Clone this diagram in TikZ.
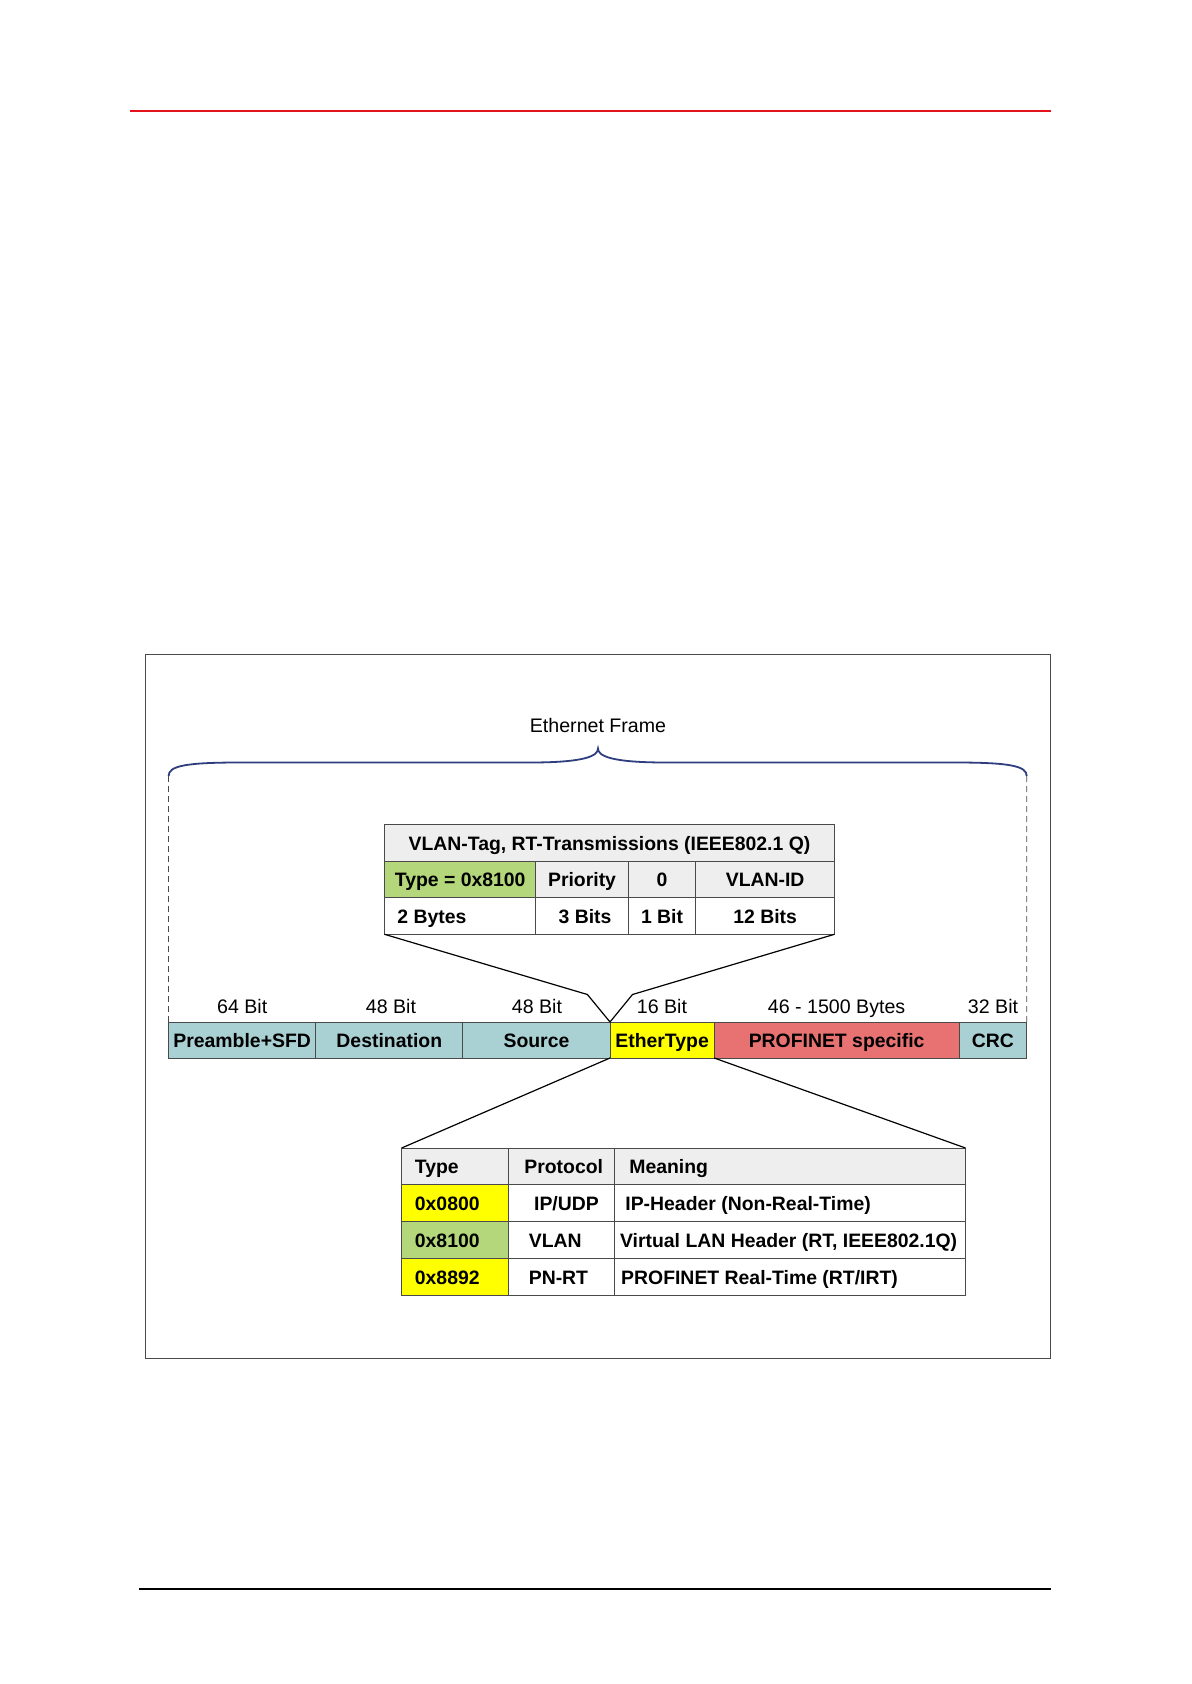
\documentclass[tikz,border=0pt]{standalone}
\usepackage{fontspec}
\setmainfont{Liberation Sans}
\definecolor{cTeal}{HTML}{A9D0D3}
\definecolor{cRed}{HTML}{E87272}
\definecolor{cYel}{HTML}{FFFF00}
\definecolor{cGreen}{HTML}{B3D77A}
\definecolor{cGrey}{HTML}{EEEEEE}
\definecolor{cLine}{HTML}{4A4A4A}
\definecolor{cBrace}{HTML}{2E3D7E}
\definecolor{cRule}{HTML}{E3131B}
\newcommand\mycell[7]{\node[cellst,#6,minimum width={(#4-#2)*0.5pt},minimum height={(#5-#3)*0.5pt}] (#1) at ({(#2+#4)/2},{(#3+#5)/2}) {#7};}
\begin{document}
\begin{tikzpicture}[x=0.5pt,y=-0.5pt,
  cellst/.style={draw=cLine,line width=0.5pt,inner sep=0pt,outer sep=0pt,
    font=\fontsize{9.7}{11}\selectfont\bfseries,text height=7pt,text depth=0pt},
  txt/.style={inner sep=0pt,font=\fontsize{9.7}{11}\selectfont\bfseries,text height=7pt,text depth=0pt},
  lbl/.style={inner sep=0pt,font=\fontsize{9.8}{11}\selectfont,text height=7pt,text depth=0pt},
  conn/.style={draw=black,line width=0.6pt},
  dashline/.style={draw=cLine,line width=0.4pt,dash pattern=on 3pt off 2pt}]
\useasboundingbox (0,0) rectangle (1191,1684);
% page rules
\coordinate (rA) at (130,110.6); \coordinate (rB) at (1051,110.6);
\draw[cRule,line width=1pt] (rA) -- (rB);
\coordinate (bA) at (138.5,1589); \coordinate (bB) at (1051,1589);
\draw[black,line width=0.7pt] (bA) -- (bB);
% outer frame
\node[draw=cLine,line width=0.5pt,inner sep=0pt,minimum width={(1050-145)*0.5pt},minimum height={(1358.5-654)*0.5pt}] (outer) at ({(145+1050)/2},{(654+1358.5)/2}) {};
% title and brace
\node[lbl] (title) at (598,725) {Ethernet Frame};
\coordinate (brL) at (168.6,776);
\coordinate (brR) at (1026.7,776);
\coordinate (brT) at (598,748.5);
\draw[cBrace,line width=0.9pt] (brL) .. controls (168.6,766) and (185,762.5) .. (240,762.5)
  -- (530,762.5) .. controls (585,762.5) and (598,756) .. (brT)
  .. controls (598,756) and (611,762.5) .. (666,762.5)
  -- (955,762.5) .. controls (1010,762.5) and (1026.7,766) .. (brR);
% frame row
\mycell{pre}{168.6}{1022}{315.7}{1058}{fill=cTeal}{Preamble+SFD}
\mycell{dst}{315.7}{1022}{462.9}{1058}{fill=cTeal}{Destination}
\mycell{src}{462.9}{1022}{610}{1058}{fill=cTeal}{Source}
\mycell{eth}{610}{1022}{714.2}{1058}{fill=cYel}{EtherType}
\mycell{pns}{714.2}{1022}{959}{1058}{fill=cRed}{PROFINET specific}
\mycell{crc}{959}{1022}{1026.7}{1058}{fill=cTeal}{CRC}
% dashed verticals
\draw[dashline] (brL) -- (pre.north west);
\draw[dashline] (brR) -- (crc.north east);
% bit labels
\node[lbl] (l1) at (242.2,1006) {64 Bit};
\node[lbl] (l2) at (391,1006) {48 Bit};
\node[lbl] (l3) at (537,1006) {48 Bit};
\node[lbl] (l4) at (662,1006) {16 Bit};
\node[lbl] (l5) at (836.6,1006) {46 - 1500 Bytes};
\node[lbl] (l6) at (993,1006) {32 Bit};
% VLAN table
\mycell{vh}{384.5}{824.8}{834.4}{861.3}{fill=cGrey}{VLAN-Tag, RT-Transmissions (IEEE802.1 Q)}
\mycell{v1}{384.5}{861.3}{535.9}{897.8}{fill=cGreen}{Type = 0x8100}
\mycell{v2}{535.9}{861.3}{628.2}{897.8}{fill=cGrey}{Priority}
\mycell{v3}{628.2}{861.3}{695.9}{897.8}{fill=cGrey}{0}
\mycell{v4}{695.9}{861.3}{834.4}{897.8}{fill=cGrey}{VLAN-ID}
\mycell{w1}{384.5}{897.8}{535.9}{934.3}{fill=white}{}
\node[txt,anchor=west] (w1t) at (397,916) {2 Bytes};
\mycell{w2}{535.9}{897.8}{628.2}{934.3}{fill=white}{\hspace*{3pt}3 Bits}
\mycell{w3}{628.2}{897.8}{695.9}{934.3}{fill=white}{1 Bit}
\mycell{w4}{695.9}{897.8}{834.4}{934.3}{fill=white}{12 Bits}
% connectors upper
\coordinate (kL) at (587.4,994.5);
\coordinate (kR) at (632.5,994.5);
\draw[conn] (w1.south west) -- (kL) -- (eth.north west);
\draw[conn] (w4.south east) -- (kR) -- (eth.north west);
% lower table
\mycell{th1}{401.6}{1148}{508}{1184.5}{fill=cGrey}{}
\mycell{th2}{508}{1148}{614.3}{1184.5}{fill=cGrey}{}
\mycell{th3}{614.3}{1148}{965.5}{1184.5}{fill=cGrey}{}
\node[txt,anchor=west] (th1t) at (414.5,1166.5) {Type};
\node[txt,anchor=west] (th2t) at (524,1166.5) {Protocol};
\node[txt,anchor=west] (th3t) at (629,1166.5) {Meaning};
\mycell{a1}{401.6}{1184.5}{508}{1221}{fill=cYel}{}
\mycell{a2}{508}{1184.5}{614.3}{1221}{fill=white}{}
\mycell{a3}{614.3}{1184.5}{965.5}{1221}{fill=white}{}
\node[txt,anchor=west] (a1t) at (414.5,1203) {0x0800};
\node[txt,anchor=west] (a2t) at (533.7,1203) {IP/UDP};
\node[txt,anchor=west] (a3t) at (625,1203) {IP-Header (Non-Real-Time)};
\mycell{b1}{401.6}{1221}{508}{1258.7}{fill=cGreen}{}
\mycell{b2}{508}{1221}{614.3}{1258.7}{fill=white}{}
\mycell{b3}{614.3}{1221}{965.5}{1258.7}{fill=white}{}
\node[txt,anchor=west] (b1t) at (414.5,1240) {0x8100};
\node[txt,anchor=west] (b2t) at (528.4,1240) {VLAN};
\node[txt,anchor=west] (b3t) at (619.7,1240) {Virtual LAN Header (RT, IEEE802.1Q)};
\mycell{c1}{401.6}{1258.7}{508}{1295.2}{fill=cYel}{}
\mycell{c2}{508}{1258.7}{614.3}{1295.2}{fill=white}{}
\mycell{c3}{614.3}{1258.7}{965.5}{1295.2}{fill=white}{}
\node[txt,anchor=west] (c1t) at (414.5,1277) {0x8892};
\node[txt,anchor=west] (c2t) at (528.4,1277) {PN-RT};
\node[txt,anchor=west] (c3t) at (620.8,1277) {PROFINET Real-Time (RT/IRT)};
% connectors lower
\draw[conn] (eth.south west) -- (th1.north west);
\draw[conn] (eth.south east) -- (th3.north east);
\end{tikzpicture}
\end{document}
